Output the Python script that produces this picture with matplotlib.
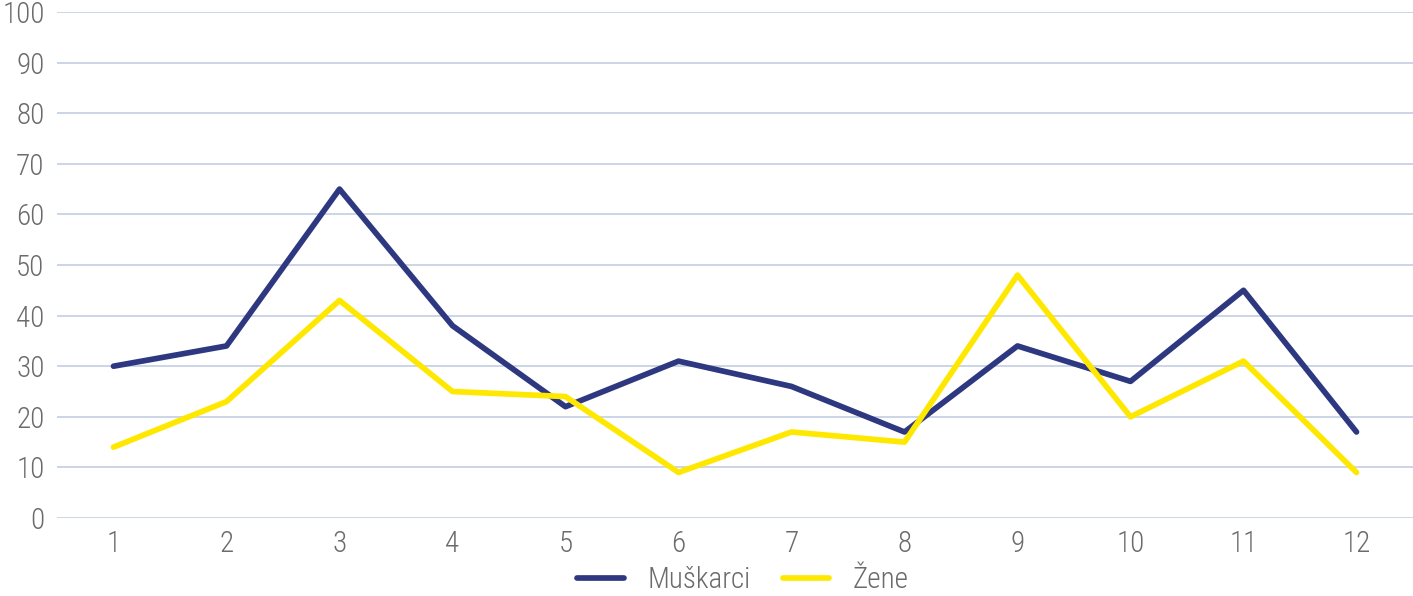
import matplotlib
matplotlib.use("Agg")
import matplotlib.pyplot as plt
from matplotlib import font_manager

months = list(range(1, 13))
muskarci = [30, 34, 65, 38, 22, 31, 26, 17, 34, 27, 45, 17]
zene = [14, 23, 43, 25, 24, 9, 17, 15, 48, 20, 31, 9]
series_names = ["Muškarci", "Žene"]
y_ticks = list(range(0, 101, 10))

available = {f.name for f in font_manager.fontManager.ttflist}
family = [f for f in ["Roboto Condensed", "Roboto", "DejaVu Sans"] if f in available]
plt.rcParams["font.family"] = family

W, H = 1413, 596
fig = plt.figure(figsize=(W / 100, H / 100), dpi=100)
ax = fig.add_axes([57 / W, (H - 518) / H, (W - 57) / W, (518 - 12) / H])

navy = "#2E3880"
yellow = "#FFE800"
grid_c = "#C8D2E5"
text_c = "#6B6B6B"
fs = 21

ax.plot(months, muskarci, color=navy, lw=4.1, solid_capstyle="round",
        solid_joinstyle="round", label=series_names[0], zorder=3)
ax.plot(months, zene, color=yellow, lw=4.1, solid_capstyle="round",
        solid_joinstyle="round", label=series_names[1], zorder=3)

ax.set_xlim(0.5, 12.5)
ax.set_ylim(0, 100)
ax.set_yticks(y_ticks)
ax.set_xticks(months)
ax.yaxis.grid(True, color=grid_c, lw=1.3)
ax.set_axisbelow(True)
for s in ax.spines.values():
    s.set_visible(False)
ax.tick_params(axis="both", length=0, labelsize=fs, labelcolor=text_c)
ax.tick_params(axis="y", pad=9)
ax.tick_params(axis="x", pad=9)
for lab in ax.get_xticklabels() + ax.get_yticklabels():
    lab.set_fontweight("light")

handles, labels = ax.get_legend_handles_labels()
leg = fig.legend(handles, labels, loc="center", bbox_to_anchor=(743 / W, 1 - 580 / H),
                 ncol=2, frameon=False, fontsize=fs, handlelength=1.6,
                 handletextpad=0.8, columnspacing=1.1, labelcolor=text_c,
                 borderpad=0, borderaxespad=0)
for t in leg.get_texts():
    t.set_fontweight("light")

fig.savefig("out.png", dpi=100)
